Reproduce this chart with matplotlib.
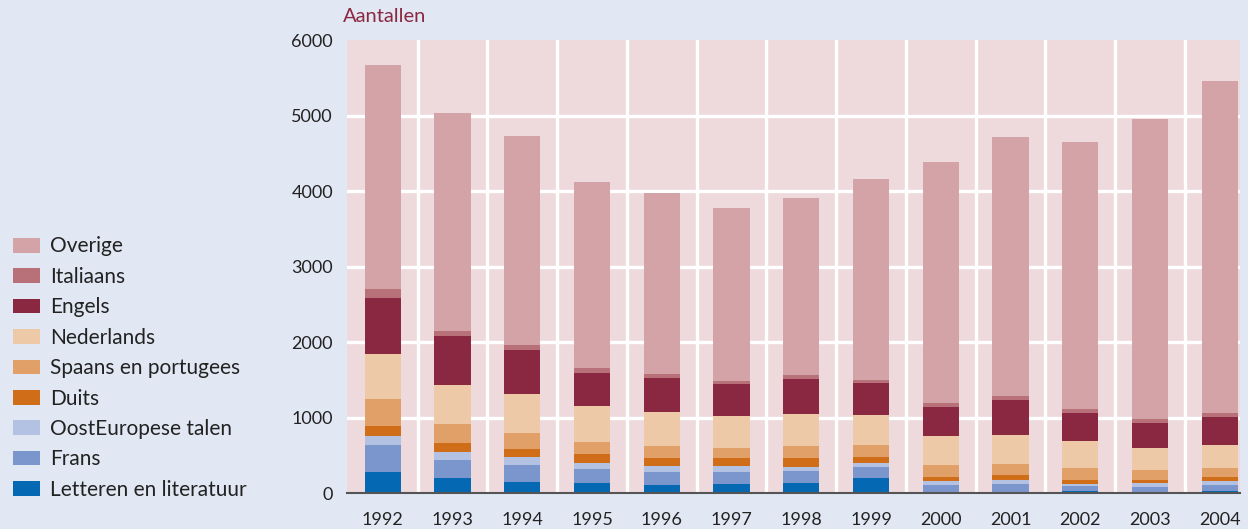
import matplotlib.pyplot as plt
import numpy as np

plt.rcParams['font.family'] = ['Lato', 'DejaVu Sans']

years = ['1992', '1993', '1994', '1995', '1996', '1997', '1998',
         '1999', '2000', '2001', '2002', '2003', '2004']

# segment values, bottom to top
letteren = [278, 199, 146, 132, 106, 119, 132, 199, 0, 0, 26, 13, 26]
frans = [358, 238, 225, 186, 172, 159, 159, 145, 106, 119, 67, 66, 80]
oosteuropees = [119, 106, 106, 79, 80, 80, 53, 53, 53, 53, 26, 53, 53]
duits = [132, 119, 106, 120, 106, 106, 120, 80, 53, 66, 53, 40, 53]
spaans = [358, 252, 212, 158, 159, 132, 159, 159, 159, 146, 159, 133, 119]
nederlands = [596, 516, 516, 477, 450, 424, 423, 397, 384, 384, 358, 291, 305]
engels = [742, 649, 583, 437, 450, 424, 464, 424, 384, 464, 371, 331, 371]
italiaans = [119, 67, 66, 67, 53, 39, 53, 40, 53, 53, 53, 53, 53]
overige = [2967, 2887, 2768, 2463, 2398, 2292, 2344, 2662, 3192, 3430, 3536, 3974, 4397]

series = [
    ('Letteren en literatuur', letteren, '#0468b2'),
    ('Frans', frans, '#7a96cc'),
    ('OostEuropese talen', oosteuropees, '#b3c2e2'),
    ('Duits', duits, '#cf6d18'),
    ('Spaans en portugees', spaans, '#e0a068'),
    ('Nederlands', nederlands, '#eec9a7'),
    ('Engels', engels, '#8b2841'),
    ('Italiaans', italiaans, '#b87079'),
    ('Overige', overige, '#d4a3a7'),
]

fig = plt.figure(figsize=(12.48, 5.29), dpi=100)
fig.patch.set_facecolor('#e1e7f3')
ax = fig.add_axes([0.278, 0.068, 0.7156, 0.856])
ax.set_facecolor('#eedadc')

x = np.arange(len(years))
bottom = np.zeros(len(years))
handles = []
for label, vals, color in series:
    b = ax.bar(x, vals, width=0.52, bottom=bottom, color=color, label=label, zorder=3)
    handles.append(b)
    bottom += np.array(vals)

# white grid
for k in range(len(years) - 1):
    ax.axvline(k + 0.5, color='white', linewidth=2.4, zorder=1)
for v in range(1000, 6000, 1000):
    ax.axhline(v, color='white', linewidth=2.4, zorder=1)

ax.set_xlim(-0.515, 12.29)
ax.set_ylim(0, 6000)
ax.set_xticks(x)
ax.set_xticklabels(years)
ax.set_yticks(range(0, 6001, 1000))
ax.tick_params(length=0, labelsize=13, colors='#222222')
ax.tick_params(axis='x', pad=14)
ax.tick_params(axis='y', pad=10)
for s in ['top', 'right', 'left']:
    ax.spines[s].set_visible(False)
ax.spines['bottom'].set_color('#555555')
ax.spines['bottom'].set_linewidth(1.5)
ax.spines['bottom'].set_zorder(4)

fig.text(343 / 1248, 1 - 17 / 529, 'Aantallen', color='#8b2942', fontsize=14.5,
         ha='left', va='center')

leg = fig.legend(handles[::-1], [s[0] for s in series][::-1],
                 loc='upper left', bbox_to_anchor=(0.0, 1 - 224 / 529),
                 frameon=False, fontsize=15, handlelength=1.3, handleheight=0.7,
                 labelspacing=0.5, handletextpad=0.5, borderaxespad=0.2)
for t in leg.get_texts():
    t.set_color('#222222')

plt.savefig('out.png', dpi=100, facecolor=fig.get_facecolor())
